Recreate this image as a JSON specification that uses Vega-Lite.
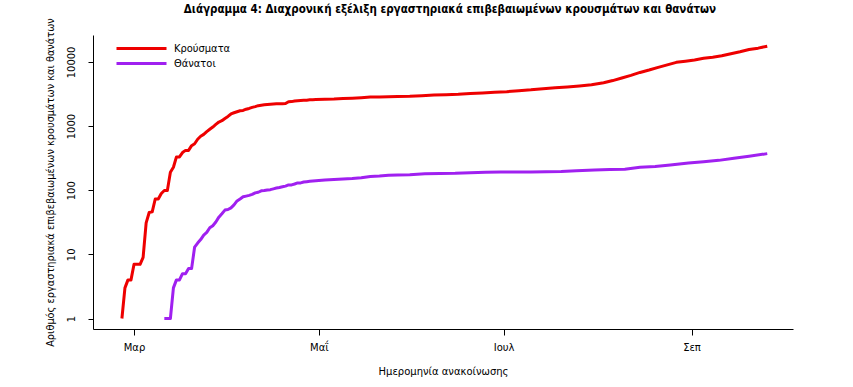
{
  "$schema": "https://vega.github.io/schema/vega-lite/v6.json",
  "width": 700,
  "height": 294,
  "autosize": {"type": "none"},
  "padding": {"left": 93, "top": 35, "right": 60, "bottom": 58},
  "background": "white",
  "title": {
    "text": "Διάγραμμα 4: Διαχρονική εξέλιξη εργαστηριακά επιβεβαιωμένων κρουσμάτων και θανάτων",
    "font": "DejaVu Sans Condensed",
    "fontSize": 11.5,
    "fontWeight": "bold",
    "color": "black",
    "anchor": "middle",
    "dx": 7,
    "offset": 2
  },
  "config": {
    "view": {"stroke": null},
    "axis": {
      "grid": false,
      "domainColor": "black",
      "tickColor": "black",
      "labelColor": "black",
      "titleColor": "black",
      "labelFont": "DejaVu Sans",
      "titleFont": "DejaVu Sans",
      "labelFontSize": 10,
      "titleFontSize": 10,
      "titleFontWeight": "normal",
      "tickSize": 5
    }
  },
  "datasets": {
    "covid": [
      {"date": "2020-02-26", "series": "Κρούσματα", "value": 1},
      {"date": "2020-02-27", "series": "Κρούσματα", "value": 3},
      {"date": "2020-02-28", "series": "Κρούσματα", "value": 4},
      {"date": "2020-02-29", "series": "Κρούσματα", "value": 4},
      {"date": "2020-03-01", "series": "Κρούσματα", "value": 7},
      {"date": "2020-03-02", "series": "Κρούσματα", "value": 7},
      {"date": "2020-03-03", "series": "Κρούσματα", "value": 7},
      {"date": "2020-03-04", "series": "Κρούσματα", "value": 9},
      {"date": "2020-03-05", "series": "Κρούσματα", "value": 31},
      {"date": "2020-03-06", "series": "Κρούσματα", "value": 45},
      {"date": "2020-03-07", "series": "Κρούσματα", "value": 46},
      {"date": "2020-03-08", "series": "Κρούσματα", "value": 73},
      {"date": "2020-03-09", "series": "Κρούσματα", "value": 73},
      {"date": "2020-03-10", "series": "Κρούσματα", "value": 89},
      {"date": "2020-03-11", "series": "Κρούσματα", "value": 99},
      {"date": "2020-03-12", "series": "Κρούσματα", "value": 99},
      {"date": "2020-03-13", "series": "Κρούσματα", "value": 190},
      {"date": "2020-03-14", "series": "Κρούσματα", "value": 228},
      {"date": "2020-03-15", "series": "Κρούσματα", "value": 331},
      {"date": "2020-03-16", "series": "Κρούσματα", "value": 331},
      {"date": "2020-03-17", "series": "Κρούσματα", "value": 387},
      {"date": "2020-03-18", "series": "Κρούσματα", "value": 418},
      {"date": "2020-03-19", "series": "Κρούσματα", "value": 418},
      {"date": "2020-03-20", "series": "Κρούσματα", "value": 495},
      {"date": "2020-03-21", "series": "Κρούσματα", "value": 530},
      {"date": "2020-03-22", "series": "Κρούσματα", "value": 624},
      {"date": "2020-03-23", "series": "Κρούσματα", "value": 695},
      {"date": "2020-03-24", "series": "Κρούσματα", "value": 743},
      {"date": "2020-03-25", "series": "Κρούσματα", "value": 821},
      {"date": "2020-03-26", "series": "Κρούσματα", "value": 892},
      {"date": "2020-03-27", "series": "Κρούσματα", "value": 966},
      {"date": "2020-03-28", "series": "Κρούσματα", "value": 1061},
      {"date": "2020-03-29", "series": "Κρούσματα", "value": 1156},
      {"date": "2020-03-30", "series": "Κρούσματα", "value": 1212},
      {"date": "2020-03-31", "series": "Κρούσματα", "value": 1314},
      {"date": "2020-04-01", "series": "Κρούσματα", "value": 1415},
      {"date": "2020-04-02", "series": "Κρούσματα", "value": 1544},
      {"date": "2020-04-03", "series": "Κρούσματα", "value": 1613},
      {"date": "2020-04-04", "series": "Κρούσματα", "value": 1673},
      {"date": "2020-04-05", "series": "Κρούσματα", "value": 1735},
      {"date": "2020-04-06", "series": "Κρούσματα", "value": 1755},
      {"date": "2020-04-07", "series": "Κρούσματα", "value": 1832},
      {"date": "2020-04-08", "series": "Κρούσματα", "value": 1884},
      {"date": "2020-04-09", "series": "Κρούσματα", "value": 1955},
      {"date": "2020-04-10", "series": "Κρούσματα", "value": 2011},
      {"date": "2020-04-11", "series": "Κρούσματα", "value": 2081},
      {"date": "2020-04-12", "series": "Κρούσματα", "value": 2114},
      {"date": "2020-04-13", "series": "Κρούσματα", "value": 2145},
      {"date": "2020-04-14", "series": "Κρούσματα", "value": 2170},
      {"date": "2020-04-15", "series": "Κρούσματα", "value": 2192},
      {"date": "2020-04-16", "series": "Κρούσματα", "value": 2207},
      {"date": "2020-04-17", "series": "Κρούσματα", "value": 2224},
      {"date": "2020-04-18", "series": "Κρούσματα", "value": 2235},
      {"date": "2020-04-19", "series": "Κρούσματα", "value": 2235},
      {"date": "2020-04-20", "series": "Κρούσματα", "value": 2245},
      {"date": "2020-04-21", "series": "Κρούσματα", "value": 2401},
      {"date": "2020-04-22", "series": "Κρούσματα", "value": 2408},
      {"date": "2020-04-23", "series": "Κρούσματα", "value": 2463},
      {"date": "2020-04-24", "series": "Κρούσματα", "value": 2490},
      {"date": "2020-04-25", "series": "Κρούσματα", "value": 2506},
      {"date": "2020-04-26", "series": "Κρούσματα", "value": 2517},
      {"date": "2020-04-27", "series": "Κρούσματα", "value": 2534},
      {"date": "2020-04-28", "series": "Κρούσματα", "value": 2566},
      {"date": "2020-04-29", "series": "Κρούσματα", "value": 2576},
      {"date": "2020-04-30", "series": "Κρούσματα", "value": 2591},
      {"date": "2020-05-03", "series": "Κρούσματα", "value": 2625},
      {"date": "2020-05-06", "series": "Κρούσματα", "value": 2642},
      {"date": "2020-05-09", "series": "Κρούσματα", "value": 2691},
      {"date": "2020-05-12", "series": "Κρούσματα", "value": 2726},
      {"date": "2020-05-15", "series": "Κρούσματα", "value": 2770},
      {"date": "2020-05-18", "series": "Κρούσματα", "value": 2834},
      {"date": "2020-05-21", "series": "Κρούσματα", "value": 2850},
      {"date": "2020-05-24", "series": "Κρούσματα", "value": 2876},
      {"date": "2020-05-27", "series": "Κρούσματα", "value": 2892},
      {"date": "2020-05-31", "series": "Κρούσματα", "value": 2915},
      {"date": "2020-06-04", "series": "Κρούσματα", "value": 2967},
      {"date": "2020-06-08", "series": "Κρούσματα", "value": 3049},
      {"date": "2020-06-12", "series": "Κρούσματα", "value": 3088},
      {"date": "2020-06-16", "series": "Κρούσματα", "value": 3134},
      {"date": "2020-06-20", "series": "Κρούσματα", "value": 3227},
      {"date": "2020-06-24", "series": "Κρούσματα", "value": 3287},
      {"date": "2020-06-28", "series": "Κρούσματα", "value": 3366},
      {"date": "2020-07-02", "series": "Κρούσματα", "value": 3432},
      {"date": "2020-07-06", "series": "Κρούσματα", "value": 3562},
      {"date": "2020-07-10", "series": "Κρούσματα", "value": 3672},
      {"date": "2020-07-14", "series": "Κρούσματα", "value": 3826},
      {"date": "2020-07-18", "series": "Κρούσματα", "value": 3964},
      {"date": "2020-07-22", "series": "Κρούσματα", "value": 4077},
      {"date": "2020-07-26", "series": "Κρούσματα", "value": 4227},
      {"date": "2020-07-30", "series": "Κρούσματα", "value": 4401},
      {"date": "2020-08-03", "series": "Κρούσματα", "value": 4737},
      {"date": "2020-08-06", "series": "Κρούσματα", "value": 5123},
      {"date": "2020-08-09", "series": "Κρούσματα", "value": 5623},
      {"date": "2020-08-12", "series": "Κρούσματα", "value": 6177},
      {"date": "2020-08-15", "series": "Κρούσματα", "value": 6858},
      {"date": "2020-08-18", "series": "Κρούσματα", "value": 7472},
      {"date": "2020-08-21", "series": "Κρούσματα", "value": 8216},
      {"date": "2020-08-24", "series": "Κρούσματα", "value": 9008},
      {"date": "2020-08-27", "series": "Κρούσματα", "value": 9853},
      {"date": "2020-08-30", "series": "Κρούσματα", "value": 10290},
      {"date": "2020-09-02", "series": "Κρούσματα", "value": 10757},
      {"date": "2020-09-05", "series": "Κρούσματα", "value": 11386},
      {"date": "2020-09-08", "series": "Κρούσματα", "value": 11832},
      {"date": "2020-09-11", "series": "Κρούσματα", "value": 12452},
      {"date": "2020-09-14", "series": "Κρούσματα", "value": 13453},
      {"date": "2020-09-17", "series": "Κρούσματα", "value": 14400},
      {"date": "2020-09-20", "series": "Κρούσματα", "value": 15595},
      {"date": "2020-09-23", "series": "Κρούσματα", "value": 16400},
      {"date": "2020-09-26", "series": "Κρούσματα", "value": 17600},
      {"date": "2020-03-11", "series": "Θάνατοι", "value": 1},
      {"date": "2020-03-12", "series": "Θάνατοι", "value": 1},
      {"date": "2020-03-13", "series": "Θάνατοι", "value": 1},
      {"date": "2020-03-14", "series": "Θάνατοι", "value": 3},
      {"date": "2020-03-15", "series": "Θάνατοι", "value": 4},
      {"date": "2020-03-16", "series": "Θάνατοι", "value": 4},
      {"date": "2020-03-17", "series": "Θάνατοι", "value": 5},
      {"date": "2020-03-18", "series": "Θάνατοι", "value": 5},
      {"date": "2020-03-19", "series": "Θάνατοι", "value": 6},
      {"date": "2020-03-20", "series": "Θάνατοι", "value": 6},
      {"date": "2020-03-21", "series": "Θάνατοι", "value": 13},
      {"date": "2020-03-22", "series": "Θάνατοι", "value": 15},
      {"date": "2020-03-23", "series": "Θάνατοι", "value": 17},
      {"date": "2020-03-24", "series": "Θάνατοι", "value": 20},
      {"date": "2020-03-25", "series": "Θάνατοι", "value": 22},
      {"date": "2020-03-26", "series": "Θάνατοι", "value": 26},
      {"date": "2020-03-27", "series": "Θάνατοι", "value": 28},
      {"date": "2020-03-28", "series": "Θάνατοι", "value": 32},
      {"date": "2020-03-29", "series": "Θάνατοι", "value": 38},
      {"date": "2020-03-30", "series": "Θάνατοι", "value": 43},
      {"date": "2020-03-31", "series": "Θάνατοι", "value": 49},
      {"date": "2020-04-01", "series": "Θάνατοι", "value": 50},
      {"date": "2020-04-02", "series": "Θάνατοι", "value": 53},
      {"date": "2020-04-03", "series": "Θάνατοι", "value": 59},
      {"date": "2020-04-04", "series": "Θάνατοι", "value": 68},
      {"date": "2020-04-05", "series": "Θάνατοι", "value": 73},
      {"date": "2020-04-06", "series": "Θάνατοι", "value": 79},
      {"date": "2020-04-07", "series": "Θάνατοι", "value": 81},
      {"date": "2020-04-08", "series": "Θάνατοι", "value": 83},
      {"date": "2020-04-09", "series": "Θάνατοι", "value": 86},
      {"date": "2020-04-10", "series": "Θάνατοι", "value": 91},
      {"date": "2020-04-11", "series": "Θάνατοι", "value": 93},
      {"date": "2020-04-12", "series": "Θάνατοι", "value": 98},
      {"date": "2020-04-13", "series": "Θάνατοι", "value": 99},
      {"date": "2020-04-14", "series": "Θάνατοι", "value": 101},
      {"date": "2020-04-15", "series": "Θάνατοι", "value": 102},
      {"date": "2020-04-16", "series": "Θάνατοι", "value": 105},
      {"date": "2020-04-17", "series": "Θάνατοι", "value": 108},
      {"date": "2020-04-18", "series": "Θάνατοι", "value": 110},
      {"date": "2020-04-19", "series": "Θάνατοι", "value": 113},
      {"date": "2020-04-20", "series": "Θάνατοι", "value": 116},
      {"date": "2020-04-21", "series": "Θάνατοι", "value": 121},
      {"date": "2020-04-22", "series": "Θάνατοι", "value": 121},
      {"date": "2020-04-23", "series": "Θάνατοι", "value": 125},
      {"date": "2020-04-24", "series": "Θάνατοι", "value": 130},
      {"date": "2020-04-25", "series": "Θάνατοι", "value": 130},
      {"date": "2020-04-26", "series": "Θάνατοι", "value": 134},
      {"date": "2020-04-27", "series": "Θάνατοι", "value": 136},
      {"date": "2020-04-28", "series": "Θάνατοι", "value": 138},
      {"date": "2020-04-29", "series": "Θάνατοι", "value": 139},
      {"date": "2020-04-30", "series": "Θάνατοι", "value": 140},
      {"date": "2020-05-03", "series": "Θάνατοι", "value": 144},
      {"date": "2020-05-06", "series": "Θάνατοι", "value": 147},
      {"date": "2020-05-09", "series": "Θάνατοι", "value": 150},
      {"date": "2020-05-12", "series": "Θάνατοι", "value": 152},
      {"date": "2020-05-15", "series": "Θάνατοι", "value": 156},
      {"date": "2020-05-18", "series": "Θάνατοι", "value": 163},
      {"date": "2020-05-21", "series": "Θάνατοι", "value": 166},
      {"date": "2020-05-24", "series": "Θάνατοι", "value": 171},
      {"date": "2020-05-27", "series": "Θάνατοι", "value": 173},
      {"date": "2020-05-31", "series": "Θάνατοι", "value": 175},
      {"date": "2020-06-05", "series": "Θάνατοι", "value": 180},
      {"date": "2020-06-10", "series": "Θάνατοι", "value": 183},
      {"date": "2020-06-15", "series": "Θάνατοι", "value": 184},
      {"date": "2020-06-20", "series": "Θάνατοι", "value": 188},
      {"date": "2020-06-25", "series": "Θάνατοι", "value": 190},
      {"date": "2020-06-30", "series": "Θάνατοι", "value": 192},
      {"date": "2020-07-05", "series": "Θάνατοι", "value": 192},
      {"date": "2020-07-10", "series": "Θάνατοι", "value": 193},
      {"date": "2020-07-15", "series": "Θάνατοι", "value": 194},
      {"date": "2020-07-20", "series": "Θάνατοι", "value": 196},
      {"date": "2020-07-25", "series": "Θάνατοι", "value": 201},
      {"date": "2020-07-31", "series": "Θάνατοι", "value": 206},
      {"date": "2020-08-05", "series": "Θάνατοι", "value": 210},
      {"date": "2020-08-10", "series": "Θάνατοι", "value": 213},
      {"date": "2020-08-15", "series": "Θάνατοι", "value": 228},
      {"date": "2020-08-20", "series": "Θάνατοι", "value": 234},
      {"date": "2020-08-25", "series": "Θάνατοι", "value": 248},
      {"date": "2020-08-31", "series": "Θάνατοι", "value": 266},
      {"date": "2020-09-05", "series": "Θάνατοι", "value": 279},
      {"date": "2020-09-10", "series": "Θάνατοι", "value": 292},
      {"date": "2020-09-15", "series": "Θάνατοι", "value": 315},
      {"date": "2020-09-20", "series": "Θάνατοι", "value": 338},
      {"date": "2020-09-26", "series": "Θάνατοι", "value": 372}
    ]
  },
  "data": {"name": "covid"},
  "mark": {"type": "line", "strokeWidth": 3, "interpolate": "linear", "strokeJoin": "round"},
  "encoding": {
    "x": {
      "field": "date",
      "type": "temporal",
      "scale": {
        "type": "utc",
        "nice": false,
        "domain": [
          {"year": 2020, "month": 2, "date": 16, "hours": 11, "utc": true},
          {"year": 2020, "month": 10, "date": 4, "hours": 12, "utc": true}
        ]
      },
      "axis": {
        "title": "Ημερομηνία ανακοίνωσης",
        "values": [
          {"year": 2020, "month": 3, "date": 1, "utc": true},
          {"year": 2020, "month": 5, "date": 1, "utc": true},
          {"year": 2020, "month": 7, "date": 1, "utc": true},
          {"year": 2020, "month": 9, "date": 1, "utc": true}
        ],
        "labelExpr": "['Ιαν','Φεβ','Μαρ','Απρ','Μαΐ','Ιουν','Ιουλ','Αυγ','Σεπ','Οκτ','Νοε','Δεκ'][utcmonth(datum.value)]",
        "tickSize": 6,
        "labelPadding": 7,
        "titlePadding": 14,
        "labelFlush": false
      }
    },
    "y": {
      "field": "value",
      "type": "quantitative",
      "scale": {"type": "log", "domain": [0.686, 26300], "nice": false},
      "axis": {
        "title": "Αριθμός εργαστηριακά επιβεβαιωμένων κρουσμάτων και θανάτων",
        "titleFontSize": 9.8,
        "values": [1, 10, 100, 1000, 10000],
        "format": "d",
        "labelAngle": -90,
        "labelAlign": "center",
        "labelBaseline": "bottom",
        "labelPadding": 12,
        "titlePadding": 11,
        "labelFlush": false
      }
    },
    "color": {
      "field": "series",
      "type": "nominal",
      "scale": {"domain": ["Κρούσματα", "Θάνατοι"], "range": ["#EE0000", "#A020F0"]},
      "legend": {
        "title": null,
        "orient": "none",
        "legendX": 42,
        "legendY": 7,
        "symbolType": "M-5,0H5",
        "symbolSize": 100,
        "symbolStrokeWidth": 3,
        "labelFont": "DejaVu Sans Condensed",
        "labelFontSize": 11,
        "labelColor": "black",
        "labelOffset": 26,
        "rowPadding": 2,
        "padding": 0
      }
    }
  }
}
